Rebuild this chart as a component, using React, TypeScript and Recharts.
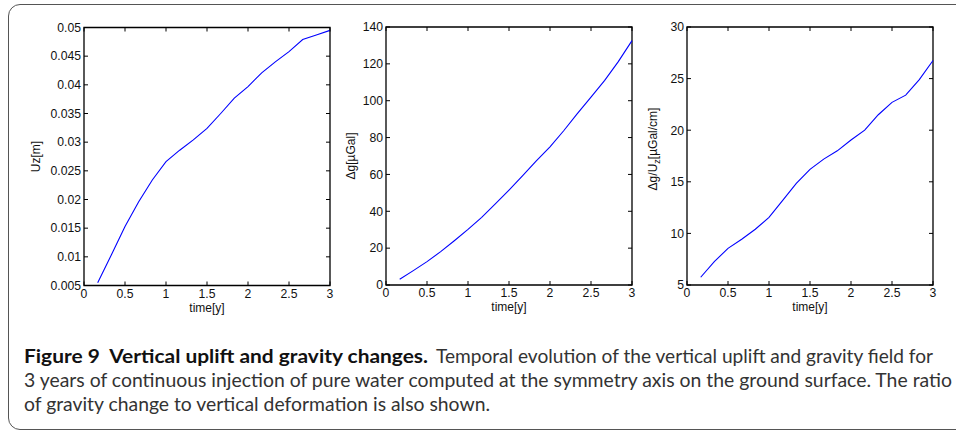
import { LineChart, Line, XAxis, YAxis, ReferenceArea } from "recharts"

// time in years (2-month steps)
const TIME = [0.167, 0.333, 0.5, 0.667, 0.833, 1, 1.167, 1.333, 1.5, 1.667, 1.833, 2, 2.167, 2.333, 2.5, 2.667, 2.833, 3]

// vertical uplift [m]
const UZ = [0.0055, 0.0103, 0.0153, 0.0196, 0.0234, 0.0266, 0.0286, 0.0304, 0.0324, 0.035, 0.0377, 0.0397, 0.0421, 0.044, 0.0458, 0.0479, 0.0487, 0.0495]

// gravity change [µGal]
const DG = [3.1, 7.8, 12.7, 18.1, 24.0, 30.2, 36.7, 44.0, 51.5, 59.3, 67.3, 75.0, 83.7, 93.0, 102.0, 111.0, 121.2, 132.6]

// ratio [µGal/cm]
const RATIO = [5.75, 7.26, 8.55, 9.43, 10.4, 11.56, 13.2, 14.85, 16.2, 17.2, 18.0, 19.05, 20.0, 21.5, 22.7, 23.4, 24.9, 26.75]

const X_TICKS = [0, 0.5, 1, 1.5, 2, 2.5, 3]
const UZ_TICKS = [0.005, 0.01, 0.015, 0.02, 0.025, 0.03, 0.035, 0.04, 0.045, 0.05]
const DG_TICKS = [0, 20, 40, 60, 80, 100, 120, 140]
const RATIO_TICKS = [5, 10, 15, 20, 25, 30]

const FONT = "'Liberation Sans', Arial, Helvetica, sans-serif"
const CAPTION_FONT = "Lato, 'Open Sans', sans-serif"
const TICK_FS = 12.2
const PLOT_W = 246
const PLOT_H = 258
const SVG_H = 320
const PAD_L = 70
const AXIS_W = 40 // y axis band (labels drawn inside it)
const AXIS_H = 30 // x axis band

const rows = TIME.map((t, i) => ({ t, uz: UZ[i], dg: DG[i], ratio: RATIO[i] }))

function Panel({ left, top, dataKey, yTicks, title, titleOffset, titleShift = 0 }: any) {
  const yMin = yTicks[0]
  const yMax = yTicks[yTicks.length - 1]

  // bottom ticks also draw the matching tick on the top edge (matlab box)
  const xTick = (p: any) => (
    <g>
      <line x1={p.x} y1={p.y} x2={p.x} y2={p.y - 4} stroke="#000" />
      <line x1={p.x} y1={p.y - PLOT_H} x2={p.x} y2={p.y - PLOT_H + 4} stroke="#000" />
      <text x={p.x} y={p.y + 12} textAnchor="middle" fontSize={TICK_FS} fontFamily={FONT} fill="#111">
        {p.payload.value}
      </text>
    </g>
  )

  const yTick = (p: any) => (
    <g>
      <line x1={p.x} y1={p.y} x2={p.x + 4} y2={p.y} stroke="#000" />
      <line x1={p.x + PLOT_W} y1={p.y} x2={p.x + PLOT_W - 4} y2={p.y} stroke="#000" />
      <text x={p.x - 3} y={p.y + 4.3} textAnchor="end" fontSize={TICK_FS} fontFamily={FONT} fill="#111">
        {p.payload.value}
      </text>
    </g>
  )

  return (
    <div style={{ position: "absolute", left: left - PAD_L, top: 0 }}>
      <LineChart
        width={PLOT_W + PAD_L + 10}
        height={SVG_H}
        data={rows}
        margin={{ top, left: PAD_L - AXIS_W, right: 10, bottom: SVG_H - top - PLOT_H - AXIS_H }}
      >
        <XAxis
          dataKey="t"
          type="number"
          domain={[0, 3]}
          ticks={X_TICKS}
          interval={0}
          height={AXIS_H}
          tickSize={0}
          tickMargin={0}
          axisLine={false}
          tickLine={false}
          tick={xTick}
          label={{
            content: (lp: any) => (
              <text
                x={lp.viewBox.x + lp.viewBox.width / 2}
                y={lp.viewBox.y + 26}
                textAnchor="middle"
                fontSize={12}
                fontFamily={FONT}
                fill="#111"
              >
                time[y]
              </text>
            ),
          }}
        />
        <YAxis
          type="number"
          domain={[yMin, yMax]}
          ticks={yTicks}
          interval={0}
          width={AXIS_W}
          tickSize={0}
          tickMargin={0}
          axisLine={false}
          tickLine={false}
          tick={yTick}
          allowDataOverflow
          label={{
            content: (lp: any) => {
              const cx = lp.viewBox.x + lp.viewBox.width - titleOffset
              const cy = lp.viewBox.y + lp.viewBox.height / 2 + titleShift
              return (
                <text
                  x={cx}
                  y={cy}
                  transform={`rotate(-90 ${cx} ${cy})`}
                  textAnchor="middle"
                  fontSize={12}
                  fontFamily={FONT}
                  fill="#111"
                >
                  {title}
                </text>
              )
            },
          }}
        />
        <ReferenceArea x1={0} x2={3} y1={yMin} y2={yMax} fill="none" stroke="#000" strokeWidth={1.3} />
        <Line dataKey={dataKey} stroke="#0000ff" strokeWidth={1.1} dot={false} type="linear" isAnimationActive={false} />
      </LineChart>
    </div>
  )
}

function Caption() {
  const common = { fontFamily: CAPTION_FONT, fontSize: 18.8, lengthAdjust: "spacingAndGlyphs" as const }
  return (
    <svg width={956} height={100} style={{ position: "absolute", left: 0, top: 335 }}>
      <text x={24} y={28} textLength={404} fontWeight={700} fill="#111" {...common}>
        {"Figure 9\u00a0 Vertical uplift and gravity changes."}
      </text>
      <text x={436} y={28} textLength={497} fill="#333" {...common}>
        Temporal evolution of the vertical uplift and gravity field for
      </text>
      <text x={24} y={52} textLength={928} fill="#333" {...common}>
        3 years of continuous injection of pure water computed at the symmetry axis on the ground surface. The ratio
      </text>
      <text x={24} y={76} textLength={466} fill="#333" {...common}>
        of gravity change to vertical deformation is also shown.
      </text>
    </svg>
  )
}

export default function App() {
  return (
    <div style={{ position: "fixed", left: 0, top: 0, width: 956, height: 435, background: "#fff", overflow: "hidden" }}>
      <div
        style={{
          position: "absolute",
          left: 8,
          top: 4,
          width: 980,
          height: 424,
          border: "1.5px solid #555",
          borderRadius: 12,
        }}
      />
      <Panel left={84} top={27.5} dataKey="uz" yTicks={UZ_TICKS} titleOffset={44} title="Uz[m]" />
      <Panel left={385.5} top={27} dataKey="dg" yTicks={DG_TICKS} titleOffset={31} title="Δg[µGal]" />
      <Panel
        left={687}
        top={27}
        dataKey="ratio"
        yTicks={RATIO_TICKS}
        titleOffset={30}
        titleShift={-7}
        title={
          <>
            <tspan>Δg/U</tspan>
            <tspan dy={3} fontSize={9}>z</tspan>
            <tspan dy={-3}>[µGal/cm]</tspan>
          </>
        }
      />
      <Caption />
    </div>
  )
}
